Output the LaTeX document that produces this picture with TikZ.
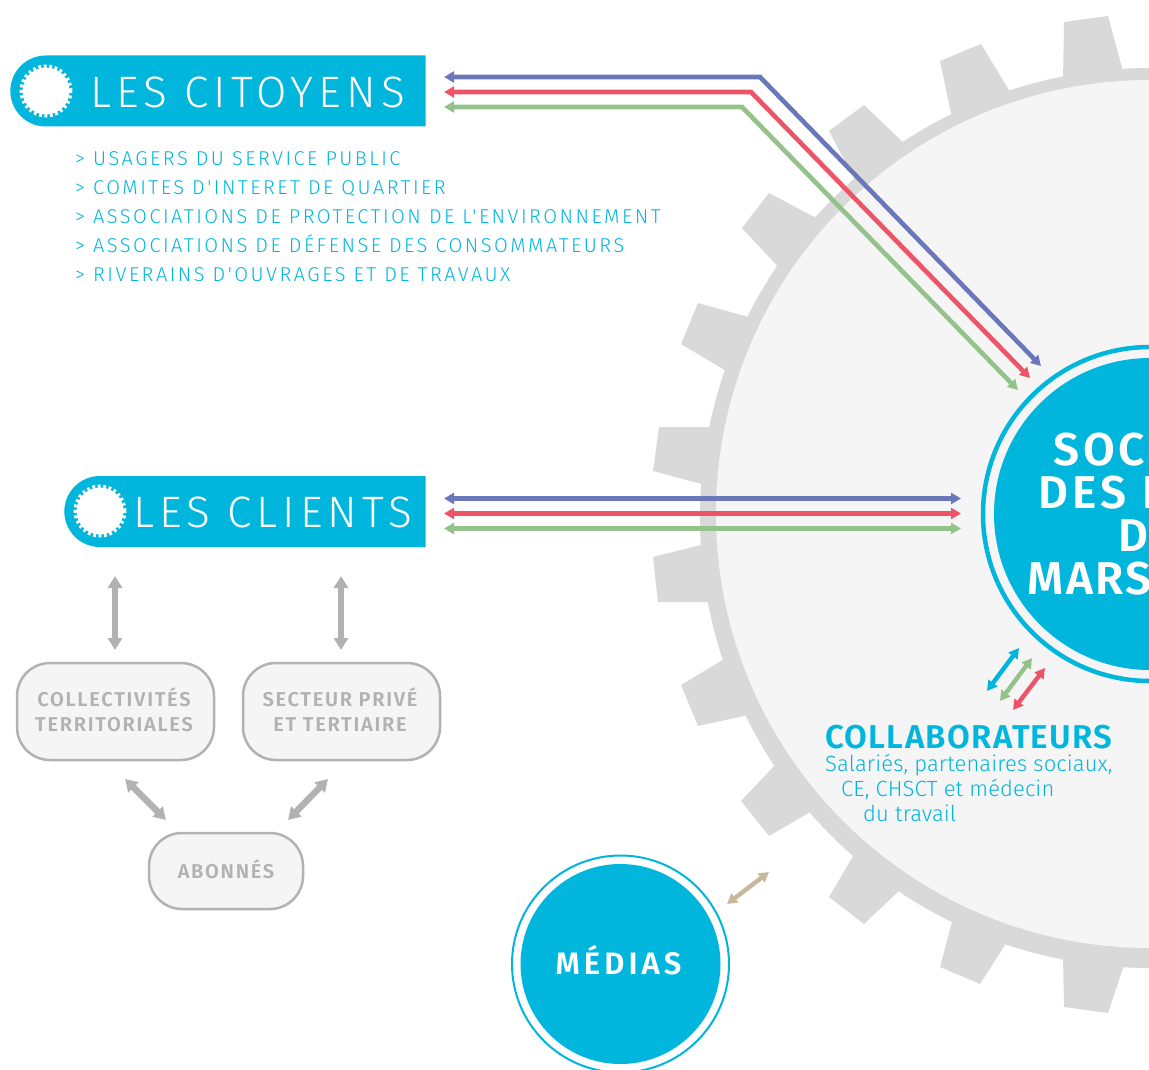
\documentclass[tikz,border=0pt]{standalone}
\usepackage{fontspec}
\usepackage{tikz}
\usetikzlibrary{arrows.meta,shapes.misc}
\setmainfont{Fira Sans}
\newfontfamily\thinfont[LetterSpace=11.5]{Fira Sans Light}
\newfontfamily\listfont[LetterSpace=12.4]{Fira Sans Light}
\newfontfamily\collabfont[LetterSpace=0.5]{Fira Sans Light}
\newfontfamily\boldfont[LetterSpace=4]{Fira Sans SemiBold}
\newfontfamily\bigfont[LetterSpace=5]{Fira Sans SemiBold}
\newfontfamily\spacedfont[LetterSpace=8.5]{Fira Sans SemiBold}
\newfontfamily\mediafont[LetterSpace=13]{Fira Sans SemiBold}
\definecolor{cyanmain}{HTML}{00B6DD}
\definecolor{gearcol}{HTML}{D9D9D9}
\definecolor{discol}{HTML}{F5F5F5}
\definecolor{graymain}{HTML}{B2B2B2}
\definecolor{bluearrow}{HTML}{6A78BB}
\definecolor{redarrow}{HTML}{EE5467}
\definecolor{greenarrow}{HTML}{93C28B}
\definecolor{tanarrow}{HTML}{C9B79C}
\tikzset{
  pill/.style = {rounded rectangle, rounded rectangle right arc=none, fill=cyanmain, minimum height=71pt, outer sep=0pt},
  cog/.style = {circle, fill=white, draw=white, line width=6pt, dash pattern=on 2.6pt off 2.6pt, minimum size=47pt, inner sep=0pt, outer sep=0pt},
  pilltext/.style = {text=white, font=\thinfont\fontsize{44}{44}\selectfont, inner sep=0pt},
  listline/.style = {text=cyanmain, font=\listfont\fontsize{20}{20}\selectfont, anchor=base west, inner sep=0pt},
  box/.style = {draw=graymain, fill=discol, line width=2.5pt, rounded corners=33pt, text=graymain, text depth=4pt, align=center, font=\spacedfont\fontsize{20}{25}\selectfont, inner sep=0pt},
  duo/.style = {{Triangle[length=10pt,width=11pt]}-{Triangle[length=10pt,width=11pt]}, line width=4.6pt},
  solo/.style = {{Triangle[length=10pt,width=11pt]}-{Triangle[length=10pt,width=11pt]}, line width=4.4pt},
  grayduo/.style = {{Triangle[length=12pt,width=14pt]}-{Triangle[length=12pt,width=14pt]}, line width=6.4pt, draw=graymain, color=graymain}
}
\begin{document}
\begin{tikzpicture}[x=1pt,y=-1pt]
\useasboundingbox (0,0) rectangle (1149,1070);
\clip (0,0) rectangle (1149,1070);
% gear
\fill[gearcol] (1150,518) circle (450);
\foreach \ax/\ay/\bx/\by/\cx/\cy/\dx/\dy in {1064/22/1108/16/1124/75/1063/82, 940/61/981/44/1012/95/952/118,
  829/131/864/105/906/145/856/182, 769/193/742/228/781/270/820/220, 698/303/681/344/728/372/752/318,
  659/427/653/471/705/485/712/427, 653/557/658/602/712/602/705/544, 726/658/681/685/698/726/748/715,
  776/764/741/801/769/836/812/811, 855/853/829/897/864/924/901/889, 953/918/940/967/980/984/1007/942,
  1063/957/1064/1007/1108/1013/1124/965}
  \fill[gearcol] (\ax,\ay) -- (\bx,\by) -- (\cx,\cy) -- (\dx,\dy) -- cycle;
\node[circle, fill=discol, minimum size=868pt, inner sep=0pt, outer sep=0pt] (gear) at (1150,514) {};
% main disc
\node[circle, draw=cyanmain, line width=4.5pt, fill=discol, minimum size=334pt, inner sep=0pt] (ring) at (1150,514) {};
\node[circle, fill=cyanmain, minimum size=312pt, inner sep=0pt, align=center, text=white, text depth=12pt, font=\bigfont\fontsize{46}{43}\selectfont] (societe) at (1150,514)
  {\addfontfeature{LetterSpace=8}SOCIÉTÉ\\\addfontfeature{LetterSpace=9}DES EAUX\\\addfontfeature{LetterSpace=20}DE\\MARSEILLE};
% medias
\node[circle, draw=cyanmain, line width=2pt, fill=white, minimum size=217pt, inner sep=0pt] (mediasring) at (620.5,964) {};
\node[circle, fill=cyanmain, minimum size=200pt, inner sep=0pt, text=white, text depth=8pt, font=\mediafont\fontsize{31}{31}\selectfont] (medias) at (620.5,964) {MÉDIAS\hspace*{4pt}};
% pills
\node[pill, minimum width=422pt] (citoyens) at (218,91) {};
\node[pill, minimum width=368pt] (clients) at (245,511.5) {};
\node[cog] (cogone) at (46,91) {};
\node[cog] (cogtwo) at (100,511) {};
\node[pilltext, anchor=west] (citoyenstext) at (90,92) {LES CITOYENS};
\node[pilltext, anchor=west] (clientstext) at (133,512) {LES CLIENTS};
% list
\foreach \n/\y/\t in {a/165/USAGERS DU SERVICE PUBLIC, b/194/COMITES D'INTERET DE QUARTIER,
  c/223/ASSOCIATIONS DE PROTECTION DE L'ENVIRONNEMENT, d/252/ASSOCIATIONS DE DÉFENSE DES CONSOMMATEURS,
  e/281/RIVERAINS D'OUVRAGES ET DE TRAVAUX}
  \node[listline] (list\n) at (75,\y) {> \t};
% boxes
\node[box, minimum width=197pt, minimum height=97pt] (collectivites) at (115.5,711.5) {COLLECTIVITÉS\hspace*{3pt}\\TERRITORIALES\hspace*{3pt}};
\node[box, minimum width=197pt, minimum height=97pt] (secteur) at (341.5,711.5) {SECTEUR PRIVÉ\hspace*{3pt}\\ET TERTIAIRE\hspace*{3pt}};
\node[box, minimum width=154pt, minimum height=76pt] (abonnes) at (226,871) {ABONNÉS};
% collaborateurs
\node[text=cyanmain, font=\boldfont\fontsize{33}{33}\selectfont, anchor=base west, inner sep=0pt] (collab) at (825,748) {COLLABORATEURS};
\node[text=cyanmain, font=\collabfont\fontsize{22}{25}\selectfont, align=left, anchor=north west, inner sep=0pt] (collabtext) at (825,754) {Salariés, partenaires sociaux,\\\hspace*{16pt}CE, CHSCT et médecin\\\hspace*{38pt}du travail};
% end points of arrows
\coordinate (bluea) at (444,77); \coordinate (blueb) at (760,77); \coordinate (bluec) at (1041,366);
\coordinate (reda) at (444,92); \coordinate (redb) at (751,92); \coordinate (redc) at (1030,378);
\coordinate (greena) at (444,107); \coordinate (greenb) at (742,107); \coordinate (greenc) at (1018,390);
\coordinate (bluel) at (444,498.5); \coordinate (bluer) at (961,498.5);
\coordinate (redl) at (444,513.5); \coordinate (redr) at (961,513.5);
\coordinate (greenl) at (444,528.5); \coordinate (greenr) at (961,528.5);
\coordinate (upa) at (115,576); \coordinate (upb) at (115,650);
\coordinate (upc) at (341,576); \coordinate (upd) at (341,650);
\coordinate (diaga) at (125,779); \coordinate (diagb) at (166,820);
\coordinate (diagc) at (328,779); \coordinate (diagd) at (288,820);
\coordinate (cola) at (1019,648); \coordinate (colb) at (987,691);
\coordinate (colc) at (1032,658); \coordinate (cold) at (1000,701);
\coordinate (cole) at (1045,668); \coordinate (colf) at (1013,710);
\coordinate (meda) at (769,872); \coordinate (medb) at (727,904);
% arrows
\draw[duo, bluearrow] (bluea) -- (blueb) -- (bluec);
\draw[duo, redarrow] (reda) -- (redb) -- (redc);
\draw[duo, greenarrow] (greena) -- (greenb) -- (greenc);
\draw[duo, bluearrow] (bluel) -- (bluer);
\draw[duo, redarrow] (redl) -- (redr);
\draw[duo, greenarrow] (greenl) -- (greenr);
\draw[grayduo] (upa) -- (upb);
\draw[grayduo] (upc) -- (upd);
\draw[grayduo] (diaga) -- (diagb);
\draw[grayduo] (diagc) -- (diagd);
\draw[solo, cyanmain] (cola) -- (colb);
\draw[solo, greenarrow] (colc) -- (cold);
\draw[solo, redarrow] (cole) -- (colf);
\draw[solo, tanarrow] (meda) -- (medb);
\end{tikzpicture}
\end{document}
